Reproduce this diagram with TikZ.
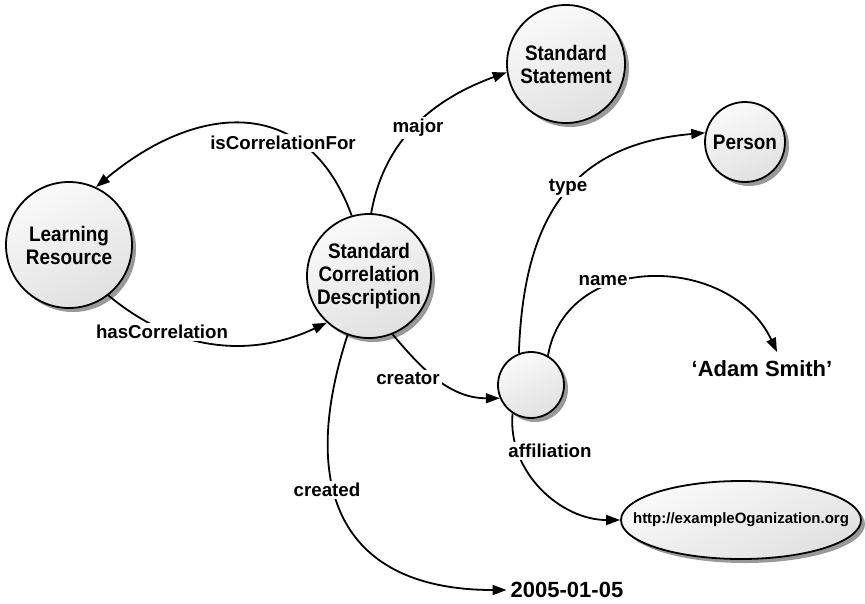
\documentclass[tikz,border=0pt]{standalone}
\usepackage{fontspec}
\setmainfont{Liberation Sans}
\newfontfamily\nodefont[FakeStretch=0.9]{Liberation Sans}
\usetikzlibrary{arrows.meta,shadows,shapes.geometric}
\begin{document}
\begin{tikzpicture}[x=1pt,y=-1pt,
  res/.style={circle, draw=black, line width=1.8pt,
    top color=gray!4, bottom color=gray!24, shading angle=25,
    drop shadow={shadow xshift=4pt, shadow yshift=-4pt, fill=gray!80, opacity=1},
    align=center, inner sep=0pt, minimum size=#1,
    font=\nodefont\bfseries\fontsize{21}{23}\selectfont},
  lit/.style={ellipse, draw=black, line width=1.8pt,
    top color=gray!4, bottom color=gray!24, shading angle=25,
    drop shadow={shadow xshift=4pt, shadow yshift=-4pt, fill=gray!80, opacity=1},
    inner sep=0pt, font=\bfseries\fontsize{15}{17}\selectfont},
  val/.style={font=\bfseries\fontsize{22}{24}\selectfont, inner sep=4pt},
  rel/.style={line width=1.8pt, -{Triangle[length=14pt,width=10pt]}},
  lbl/.style={fill=white, inner sep=2pt, font=\bfseries\fontsize{18.7}{20}\selectfont}]
\useasboundingbox (0,0) rectangle (865,603);

% resources
\node[res=126pt] (lr) at (69,245) {Learning\\Resource};
\node[res=124pt] (scd) at (369,276) {Standard\\Correlation\\Description};
\node[res=118pt] (ss) at (566,64) {Standard\\Statement};
\node[res=80pt] (person) at (745,142) {Person};
\node[res=66pt] (blank) at (531,385) {};
\node[lit, minimum width=240pt, minimum height=78pt] (org) at (741,520)
  {\makebox[0pt]{http://exampleOganization.org}};

% literal values
\node[val] (adam) at (762,369) {‘Adam Smith’};
\node[val] (date) at (567,590) {2005-01-05};
\coordinate (nameend) at (777,352);

% properties
\draw[rel] (scd.106) to[out=110,in=40,looseness=1.3] (lr.65);
\draw[rel] (scd.88) to[out=80,in=200] (ss.188);
\draw[rel] (lr.-52) to[out=-40,in=205] (scd.228);
\draw[rel] (scd.-68) to[out=-50,in=180] (blank.203);
\draw[rel] (scd.-110) to[out=-108,in=180,looseness=1.4] (date.west);
\draw[rel] (blank.111) to[out=88,in=185,looseness=1.2] (person.167);
\draw[rel] (blank.60) to[out=80,in=115,looseness=1.2] (nameend);
\draw[rel] (blank.-123) to[out=-95,in=180] (org.west);

% property labels
\node[lbl] (l1) at (283,143) {isCorrelationFor};
\node[lbl] (l2) at (418,128) {major};
\node[lbl] (l3) at (162,332) {hasCorrelation};
\node[lbl] (l4) at (408,378) {creator};
\node[lbl] (l5) at (327,490) {created};
\node[lbl] (l6) at (568,187) {type};
\node[lbl] (l7) at (603,281) {name};
\node[lbl] (l8) at (550,451) {affiliation};
\end{tikzpicture}
\end{document}
